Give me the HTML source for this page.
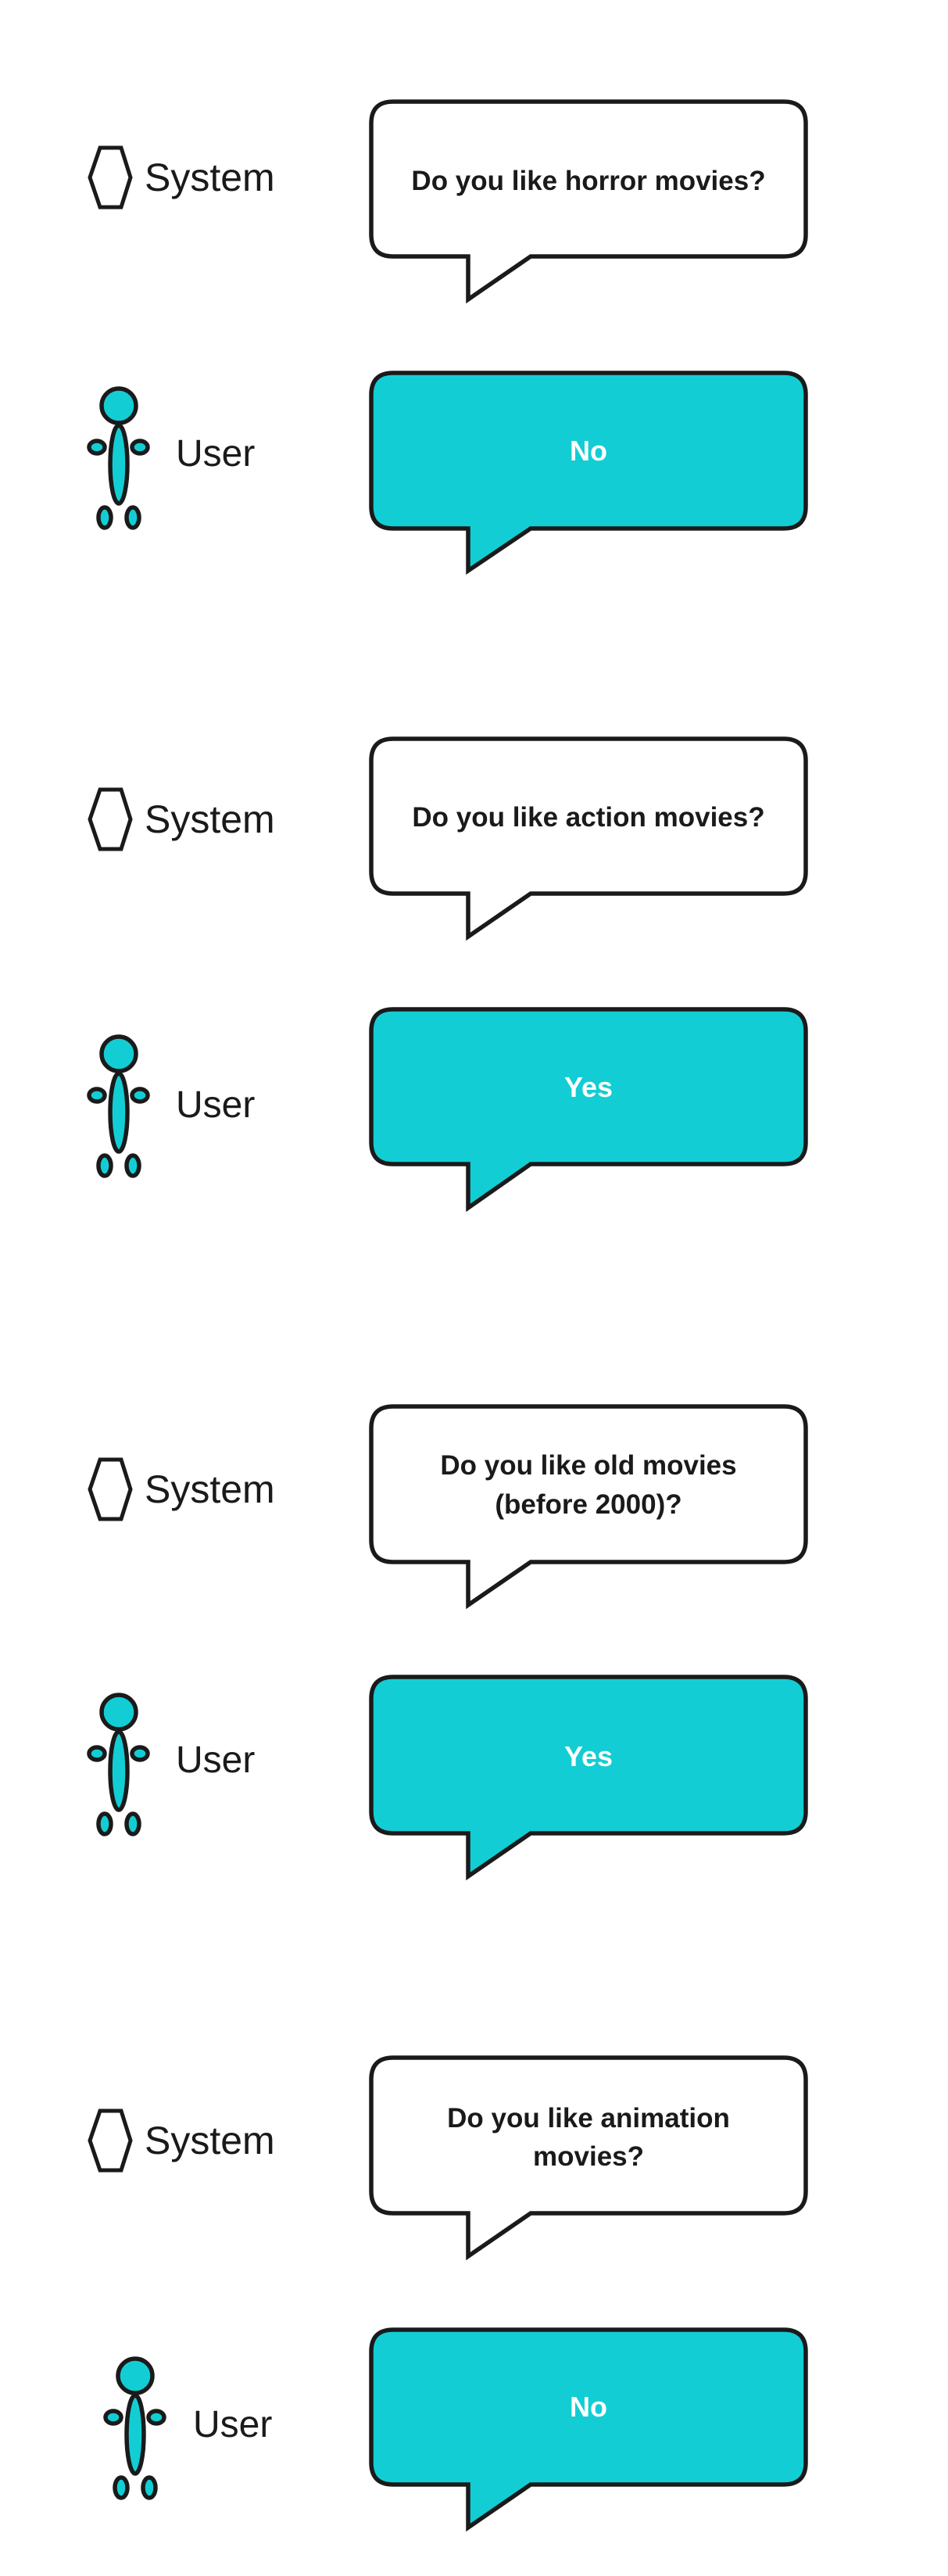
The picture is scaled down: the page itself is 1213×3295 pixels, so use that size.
<!DOCTYPE html>
<html><head><meta charset="utf-8"><style>
html,body{margin:0;padding:0;background:#fff}
svg{display:block}
</style></head><body>
<svg width="1213" height="3295" viewBox="0 0 1213 3295" xmlns="http://www.w3.org/2000/svg">
<defs>
<g id="hex"><polygon points="13,0 40,0 52,38 40,76 13,76 0,38" fill="#fff" stroke="#1a1a1a" stroke-width="5"/></g>
<g id="person" fill="#13CDD4" stroke="#1a1a1a" stroke-width="5.5">
<circle cx="0" cy="0" r="22"/>
<ellipse cx="0" cy="75" rx="11" ry="50"/>
<ellipse cx="-28" cy="53" rx="10" ry="8"/>
<ellipse cx="27" cy="53" rx="10" ry="8"/>
<ellipse cx="-18" cy="143" rx="8" ry="13"/>
<ellipse cx="18" cy="143" rx="8" ry="13"/>
</g>
</defs>
<g font-family="Liberation Sans, sans-serif">

<!-- Section 1 -->
<use href="#hex" x="115" y="189"/>
<text x="185" y="244" font-size="50" fill="#1a1a1a">System</text>
<path d="M503,130 H1003 Q1031,130 1031,158 V300 Q1031,328 1003,328 H679 L599,383 V328 H503 Q475,328 475,300 V158 Q475,130 503,130 Z" fill="#fff" stroke="#1a1a1a" stroke-width="5.5"/>
<text x="753" y="243" font-size="35" font-weight="bold" text-anchor="middle" fill="#1a1a1a">Do you like horror movies?</text>
<use href="#person" x="152" y="519"/>
<text x="225" y="596" font-size="48" fill="#1a1a1a">User</text>
<path d="M503,477 H1003 Q1031,477 1031,505 V648 Q1031,676 1003,676 H679 L599,730 V676 H503 Q475,676 475,648 V505 Q475,477 503,477 Z" fill="#13CDD4" stroke="#1a1a1a" stroke-width="5.5"/>
<text x="753" y="589" font-size="36" font-weight="bold" text-anchor="middle" fill="#fff">No</text>

<!-- Section 2 -->
<use href="#hex" x="115" y="1010"/>
<text x="185" y="1065" font-size="50" fill="#1a1a1a">System</text>
<path d="M503,945 H1003 Q1031,945 1031,973 V1115 Q1031,1143 1003,1143 H679 L599,1198 V1143 H503 Q475,1143 475,1115 V973 Q475,945 503,945 Z" fill="#fff" stroke="#1a1a1a" stroke-width="5.5"/>
<text x="753" y="1057" font-size="35" font-weight="bold" text-anchor="middle" fill="#1a1a1a">Do you like action movies?</text>
<use href="#person" x="152" y="1348"/>
<text x="225" y="1429" font-size="48" fill="#1a1a1a">User</text>
<path d="M503,1291 H1003 Q1031,1291 1031,1319 V1461 Q1031,1489 1003,1489 H679 L599,1545 V1489 H503 Q475,1489 475,1461 V1319 Q475,1291 503,1291 Z" fill="#13CDD4" stroke="#1a1a1a" stroke-width="5.5"/>
<text x="753" y="1403" font-size="36" font-weight="bold" text-anchor="middle" fill="#fff">Yes</text>

<!-- Section 3 -->
<use href="#hex" x="115" y="1867"/>
<text x="185" y="1922" font-size="50" fill="#1a1a1a">System</text>
<path d="M503,1799 H1003 Q1031,1799 1031,1827 V1970 Q1031,1998 1003,1998 H679 L599,2053 V1998 H503 Q475,1998 475,1970 V1827 Q475,1799 503,1799 Z" fill="#fff" stroke="#1a1a1a" stroke-width="5.5"/>
<text x="753" y="1886" font-size="35" font-weight="bold" text-anchor="middle" fill="#1a1a1a">Do you like old movies</text>
<text x="753" y="1936" font-size="35" font-weight="bold" text-anchor="middle" fill="#1a1a1a">(before 2000)?</text>
<use href="#person" x="152" y="2190"/>
<text x="225" y="2267" font-size="48" fill="#1a1a1a">User</text>
<path d="M503,2145 H1003 Q1031,2145 1031,2173 V2317 Q1031,2345 1003,2345 H679 L599,2400 V2345 H503 Q475,2345 475,2317 V2173 Q475,2145 503,2145 Z" fill="#13CDD4" stroke="#1a1a1a" stroke-width="5.5"/>
<text x="753" y="2259" font-size="36" font-weight="bold" text-anchor="middle" fill="#fff">Yes</text>

<!-- Section 4 -->
<use href="#hex" x="115" y="2700"/>
<text x="185" y="2755" font-size="50" fill="#1a1a1a">System</text>
<path d="M503,2632 H1003 Q1031,2632 1031,2660 V2803 Q1031,2831 1003,2831 H679 L599,2886 V2831 H503 Q475,2831 475,2803 V2660 Q475,2632 503,2632 Z" fill="#fff" stroke="#1a1a1a" stroke-width="5.5"/>
<text x="753" y="2721" font-size="35" font-weight="bold" text-anchor="middle" fill="#1a1a1a">Do you like animation</text>
<text x="753" y="2770" font-size="35" font-weight="bold" text-anchor="middle" fill="#1a1a1a">movies?</text>
<use href="#person" x="173" y="3039"/>
<text x="247" y="3117" font-size="48" fill="#1a1a1a">User</text>
<path d="M503,2980 H1003 Q1031,2980 1031,3008 V3150 Q1031,3178 1003,3178 H679 L599,3233 V3178 H503 Q475,3178 475,3150 V3008 Q475,2980 503,2980 Z" fill="#13CDD4" stroke="#1a1a1a" stroke-width="5.5"/>
<text x="753" y="3091" font-size="36" font-weight="bold" text-anchor="middle" fill="#fff">No</text>
</g>
</svg>
</body></html>
